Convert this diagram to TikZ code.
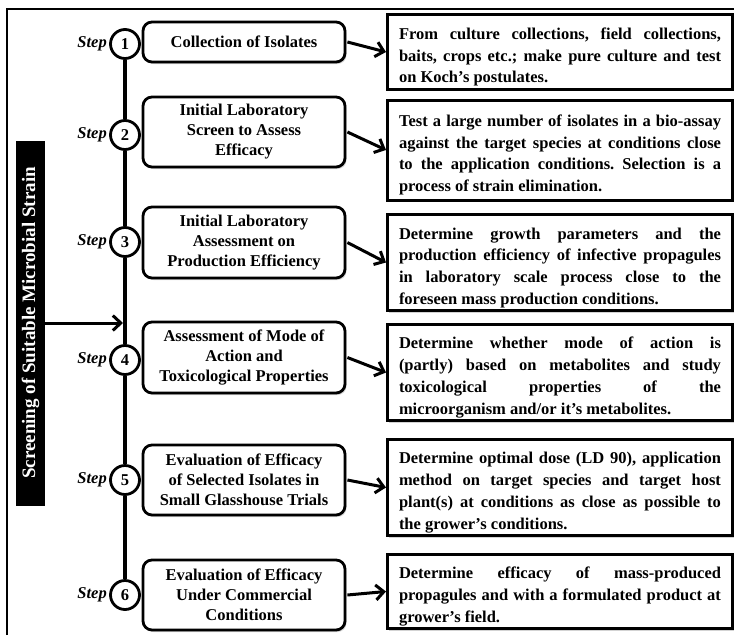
\documentclass[tikz,border=0pt]{standalone}
\usepackage{fontspec}
\setmainfont{Liberation Serif}
\usetikzlibrary{arrows.meta,shadows}
\newcommand\rjust[1]{\par\noindent{\spaceskip=\fontdimen2\font plus 1fil\relax\xspaceskip=\spaceskip\hbox to\hsize{#1}}\par}
\newcommand\rlast[1]{\par\noindent #1\par}
\tikzset{
  rbox/.style={draw, line width=3pt, rectangle, fill=white, minimum width=345pt,
    text width=322pt, align=justify, inner xsep=11.5pt, inner ysep=3pt,
    drop shadow={shadow xshift=1.5pt, shadow yshift=-2pt, opacity=0.35},
    font=\fontsize{16.5}{21.7}\selectfont\bfseries\frenchspacing},
  lbox/.style={draw, line width=2.8pt, rounded corners=9pt, fill=white, minimum width=202pt,
    align=center, inner sep=2pt,
    drop shadow={shadow xshift=1.5pt, shadow yshift=-2pt, opacity=0.35},
    font=\fontsize{16.5}{20}\selectfont\bfseries},
  circ/.style={circle, draw, line width=2.8pt, minimum size=29pt, inner sep=0pt, fill=white,
    font=\fontsize{16.5}{20}\selectfont\bfseries},
  stepl/.style={anchor=east, inner sep=0pt, font=\fontsize{16.5}{19}\selectfont\bfseries\itshape},
  arr/.style={line width=3pt, -{Straight Barb[length=8pt,width=15pt,line width=3pt]}},
  vline/.style={line width=3.5pt}
}
\begin{document}
\begin{tikzpicture}[x=1pt,y=-1pt]
\useasboundingbox (0,0) rectangle (734,635);
\draw[line width=1.6pt] (7,635) -- (7,9) -- (734,9);

% title bar
\node[fill=black, text=white, rotate=90, minimum width=365pt, minimum height=29pt, inner sep=0pt,
  font=\fontsize{19}{22}\selectfont\bfseries] (title) at (30.5,323) {Screening of Suitable Microbial Strain};

% circles and step labels
\foreach \i/\y in {1/44,2/135,3/242,4/360,5/480,6/595}{
  \node[circ] (c\i) at (125,\y) {\i};
  \node[stepl] (s\i) at (107,\y) {Step};
}
\foreach \a/\b in {1/2,2/3,3/4,4/5,5/6}{
  \draw[vline] (c\a) -- (c\b);
}
\coordinate (join) at (123,323);
\draw[arr] (title) -- (join);

% left boxes
\node[lbox, minimum height=40pt] (l1) at (244,42) {Collection of Isolates};
\node[lbox, minimum height=70pt] (l2) at (244,132) {Initial Laboratory\\Screen to Assess\\Efficacy};
\node[lbox, minimum height=71pt] (l3) at (244,242.5) {Initial Laboratory\\Assessment on\\Production Efficiency};
\node[lbox, minimum height=71pt] (l4) at (244,357.5) {Assessment of Mode of\\Action and\\Toxicological Properties};
\node[lbox, minimum height=70pt] (l5) at (244,480) {Evaluation of Efficacy\\of Selected Isolates in\\Small Glasshouse Trials};
\node[lbox, minimum height=70pt] (l6) at (244,595) {Evaluation of Efficacy\\Under Commercial\\Conditions};

% right boxes
\node[rbox, minimum height=72pt] (r1) at (560,52) {%
\rjust{From culture collections, field collections,}%
\rjust{baits, crops etc.; make pure culture and test}%
\rlast{on Koch’s postulates.}};
\node[rbox, minimum height=100pt] (r2) at (560,150) {%
\rjust{Test a large number of isolates in a bio-assay}%
\rjust{against the target species at conditions close}%
\rjust{to the application conditions. Selection is a}%
\rlast{process of strain elimination.}};
\node[rbox, minimum height=91pt] (r3) at (560,262.5) {%
\rjust{Determine growth parameters and the}%
\rjust{production efficiency of infective propagules}%
\rjust{in laboratory scale process close to the}%
\rlast{foreseen mass production conditions.}};
\node[rbox, minimum height=91pt] (r4) at (560,372.5) {%
\rjust{Determine whether mode of action is}%
\rjust{(partly) based on metabolites and study}%
\rjust{toxicological properties of the}%
\rlast{microorganism and/or it’s metabolites.}};
\node[rbox, minimum height=91pt] (r5) at (560,487.5) {%
\rjust{Determine optimal dose (LD 90), application}%
\rjust{method on target species and target host}%
\rjust{plant(s) at conditions as close as possible to}%
\rlast{the grower’s conditions.}};
\node[rbox, minimum height=73pt] (r6) at (560,591.5) {%
\rjust{Determine efficacy of mass-produced}%
\rjust{propagules and with a formulated product at}%
\rlast{grower’s field.}};

% connectors
\foreach \i in {1,...,6}{
  \draw[arr] ([xshift=1pt]l\i.east) -- (r\i.west);
}
\end{tikzpicture}
\end{document}
